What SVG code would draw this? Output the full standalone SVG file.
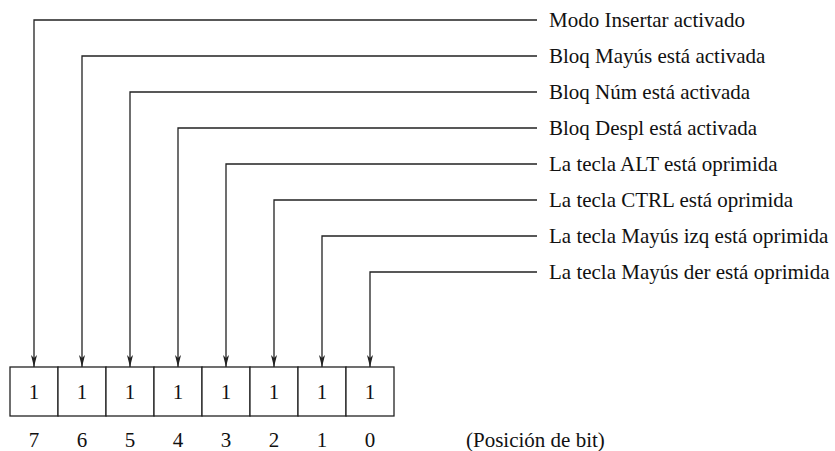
<svg xmlns="http://www.w3.org/2000/svg" width="835" height="451" viewBox="0 0 835 451">
<style>
.ln{fill:none;stroke:#222;stroke-width:1.3}
.bx{fill:#fff;stroke:#222;stroke-width:1.3}
.t{font-family:"Liberation Serif","Times New Roman",serif;font-size:21px;fill:#111}
.c{text-anchor:middle}
</style>
<defs>
<marker id="ah" markerWidth="12" markerHeight="8" refX="12" refY="4" orient="auto" markerUnits="userSpaceOnUse">
<path d="M0,1 L12,4 L0,7 L3,4 Z" fill="#222"/>
</marker>
</defs>
<g id="connectors">
<path class="ln" marker-end="url(#ah)" d="M537,20 H34 V367"/>
<path class="ln" marker-end="url(#ah)" d="M537,56 H82 V367"/>
<path class="ln" marker-end="url(#ah)" d="M537,92 H130 V367"/>
<path class="ln" marker-end="url(#ah)" d="M537,128 H178 V367"/>
<path class="ln" marker-end="url(#ah)" d="M537,164 H226 V367"/>
<path class="ln" marker-end="url(#ah)" d="M537,200 H274 V367"/>
<path class="ln" marker-end="url(#ah)" d="M537,236 H322 V367"/>
<path class="ln" marker-end="url(#ah)" d="M537,272 H370 V367"/>
</g>
<g id="labels">
<text class="t" x="549" y="27">Modo Insertar activado</text>
<text class="t" x="549" y="63">Bloq Mayús está activada</text>
<text class="t" x="549" y="99">Bloq Núm está activada</text>
<text class="t" x="549" y="135">Bloq Despl está activada</text>
<text class="t" x="549" y="171">La tecla ALT está oprimida</text>
<text class="t" x="549" y="207">La tecla CTRL está oprimida</text>
<text class="t" x="549" y="243">La tecla Mayús izq está oprimida</text>
<text class="t" x="549" y="279">La tecla Mayús der está oprimida</text>
</g>
<g id="bit7"><rect class="bx" x="10" y="367" width="48" height="49"/><text class="t c" x="34" y="399">1</text><text class="t c" x="34" y="447">7</text></g>
<g id="bit6"><rect class="bx" x="58" y="367" width="48" height="49"/><text class="t c" x="82" y="399">1</text><text class="t c" x="82" y="447">6</text></g>
<g id="bit5"><rect class="bx" x="106" y="367" width="48" height="49"/><text class="t c" x="130" y="399">1</text><text class="t c" x="130" y="447">5</text></g>
<g id="bit4"><rect class="bx" x="154" y="367" width="48" height="49"/><text class="t c" x="178" y="399">1</text><text class="t c" x="178" y="447">4</text></g>
<g id="bit3"><rect class="bx" x="202" y="367" width="48" height="49"/><text class="t c" x="226" y="399">1</text><text class="t c" x="226" y="447">3</text></g>
<g id="bit2"><rect class="bx" x="250" y="367" width="48" height="49"/><text class="t c" x="274" y="399">1</text><text class="t c" x="274" y="447">2</text></g>
<g id="bit1"><rect class="bx" x="298" y="367" width="48" height="49"/><text class="t c" x="322" y="399">1</text><text class="t c" x="322" y="447">1</text></g>
<g id="bit0"><rect class="bx" x="346" y="367" width="48" height="49"/><text class="t c" x="370" y="399">1</text><text class="t c" x="370" y="447">0</text></g>
<g id="caption"><text class="t" x="466" y="447">(Posición de bit)</text></g>
</svg>
